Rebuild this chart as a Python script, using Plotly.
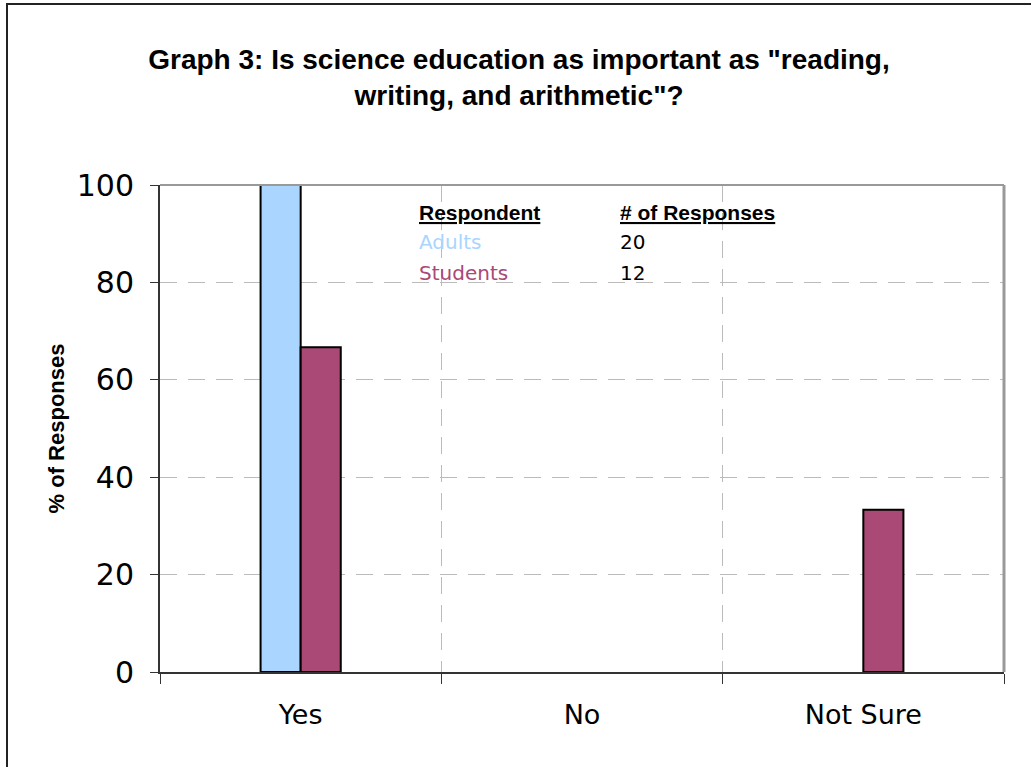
import plotly.graph_objects as go

categories = ["Yes", "No", "Not Sure"]
adults = [100, 0, 0]
students = [66.7, 0, 33.3]
respondents = ["Adults", "Students"]
responses = [20, 12]

W, H = 1031, 767
L, T = 160, 185
R = W - 1004
B = H - 672
pw, ph = W - L - R, H - T - B

def px(x):
    return (x - L) / pw

def py(y):
    return (H - B - y) / ph

blue = "#A9D5FF"
purple = "#AA4876"

def outline(vals):
    return [2 if v else 0 for v in vals]

fig = go.Figure()
fig.add_trace(go.Bar(x=categories, y=adults, name="Adults",
                     marker=dict(color=blue, line=dict(color="black", width=outline(adults)))))
fig.add_trace(go.Bar(x=categories, y=students, name="Students",
                     marker=dict(color=purple, line=dict(color="black", width=outline(students)))))

sans = "Liberation Sans, Arial, Helvetica, sans-serif"
wide = "DejaVu Sans, Verdana, sans-serif"
grid = dict(showgrid=True, gridcolor="#BBBBBB", griddash="17px,11px", gridwidth=1)

fig.update_layout(
    width=W, height=H,
    margin=dict(l=L, r=R, t=T, b=B, pad=0),
    paper_bgcolor="white", plot_bgcolor="white",
    barmode="group", bargap=0.715, bargroupgap=0,
    showlegend=False,
    title=dict(
        text='<b>Graph 3: Is science education as important as "reading,<br>writing, and arithmetic"?</b>',
        x=px(519), xanchor="center", xref="paper", y=1 - 69 / H, yanchor="middle",
        font=dict(family=sans, size=28, color="black"),
    ),
    xaxis=dict(
        type="category", tickson="boundaries", **grid,
        showline=True, linecolor="#333333", linewidth=2,
        ticks="outside", ticklen=10, tickcolor="#333333", tickwidth=1,
        ticklabelstandoff=18,
        tickfont=dict(family=wide, size=27, color="black"), range=[-0.5, 2.5],
    ),
    yaxis=dict(
        range=[0, 100], tickvals=[0, 20, 40, 60, 80, 100], **grid,
        showline=True, linecolor="#333333", linewidth=2,
        ticks="outside", ticklen=8, tickcolor="#333333", tickwidth=1,
        ticklabelstandoff=10,
        tickfont=dict(family=wide, size=30, color="black"),
        zeroline=False,
        title=dict(text="<b>% of Responses</b>", standoff=6,
                   font=dict(family=sans, size=22, color="black")),
    ),
)

# Gray top and right plot borders
fig.add_shape(type="line", xref="paper", yref="paper", x0=0, x1=1, y0=1, y1=1,
              line=dict(color="#999999", width=2))
fig.add_shape(type="line", xref="paper", yref="paper", x0=1, x1=1, y0=0, y1=1,
              line=dict(color="#999999", width=3))
# Outer frame
fig.add_shape(type="rect", xref="paper", yref="paper",
              x0=px(7), x1=px(1060), y0=py(800), y1=py(4),
              line=dict(color="#222222", width=2), fillcolor="rgba(0,0,0,0)", layer="below")

# Legend-like table
hdr_font = dict(family=sans, size=21, color="black")
fig.add_annotation(xref="paper", yref="paper", x=px(417), y=py(212), xanchor="left", yanchor="middle",
                   text="<b><u>Respondent</u></b>", showarrow=False, font=hdr_font)
fig.add_annotation(xref="paper", yref="paper", x=px(618), y=py(212), xanchor="left", yanchor="middle",
                   text="<b><u># of Responses</u></b>", showarrow=False, font=hdr_font)
row_colors = [blue, purple]
row_y = [242, 273]
for name, n, c, yy in zip(respondents, responses, row_colors, row_y):
    fig.add_annotation(xref="paper", yref="paper", x=px(417), y=py(yy), xanchor="left", yanchor="middle",
                       text=name, showarrow=False, font=dict(family=wide, size=20, color=c))
    fig.add_annotation(xref="paper", yref="paper", x=px(618), y=py(yy), xanchor="left", yanchor="middle",
                       text=str(n), showarrow=False, font=dict(family=wide, size=20, color="black"))

fig.write_html("out.html", config={"displayModeBar": False},
               post_script="document.body.style.margin='0';")
